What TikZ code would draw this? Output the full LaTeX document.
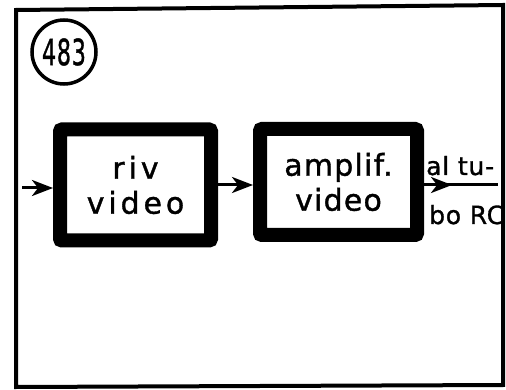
\documentclass[tikz,border=0pt]{standalone}
\usepackage{fontspec}
\setmainfont{DejaVu Sans}
\newfontfamily\boxfont[LetterSpace=13,FakeBold=1.2]{DejaVu Sans}
\newfontfamily\boxfontb[LetterSpace=4,FakeBold=1.2]{DejaVu Sans}
\newfontfamily\labfont[LetterSpace=3,FakeBold=1.2]{DejaVu Sans}
\usetikzlibrary{arrows.meta}
\begin{document}
\begin{tikzpicture}[x=1pt,y=-1pt,
  blk/.style={draw,line width=14pt,rounded corners=2pt,inner sep=0pt,align=center},
  arr/.style={line width=3pt,-{Stealth[length=21pt,width=16pt,inset=6pt]}},
  wire/.style={line width=3pt}]
\useasboundingbox (0,0) rectangle (506,390);
\fill[white] (0,0) rectangle (506,390);
% frame
\draw[line width=4pt,line join=miter] (16,10) -- (503,5) -- (503,385) -- (16,387) -- cycle;
% number circle
\node[draw,circle,line width=3.5pt,minimum size=64pt,inner sep=0pt] (num) at (64,52)
  {\fontsize{36}{36}\selectfont\labfont\scalebox{0.62}[1]{483}};
% blocks
\node[blk,minimum width=151pt,minimum height=111pt,
  font=\fontsize{30}{36}\boxfont] (b1) at (135.5,185)
  {riv\\[-1pt]video};
\node[blk,minimum width=157pt,minimum height=106pt,
  font=\fontsize{30}{36}\boxfontb] (b2) at (338.5,182)
  {amplif.\\[-1pt]video};
% connectors
\coordinate (in) at (22,188);
\coordinate (mid) at (452,185);
\coordinate (out) at (498,185);
\draw[arr] (in) -- (in -| b1.west);
\draw[arr] (b1.east) -- (b1.east -| b2.west);
\draw[wire] (b2.east |- out) -- (out);
\draw[arr] (b2.east |- out) -- (mid);
% output label
\node[anchor=base west,inner sep=0pt,font=\fontsize{25}{25}\labfont] (lab1) at (426,175) {al tu-};
\node[anchor=base west,inner sep=0pt,font=\fontsize{25}{25}\labfont] (lab2) at (429,224) {bo RC};
\end{tikzpicture}
\end{document}
